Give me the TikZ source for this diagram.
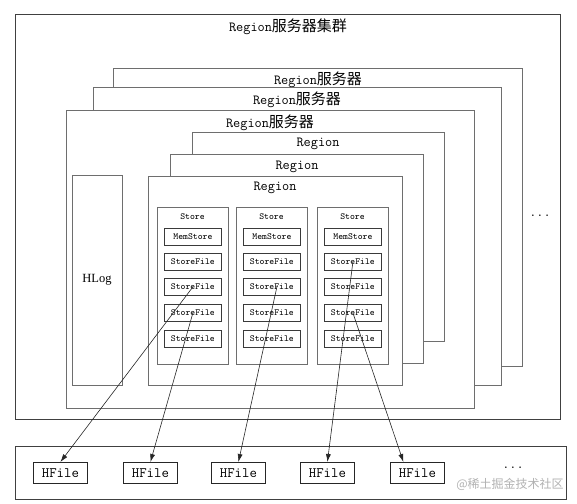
\documentclass[tikz,border=0pt]{standalone}
\usepackage{fontspec}
\usetikzlibrary{arrows.meta,calc}
\setmonofont{Latin Modern Mono}
\newfontfamily\seriff{Liberation Serif}
\newfontfamily\cjkf{Noto Sans CJK SC}
\definecolor{bc}{HTML}{6E6E6E}
\definecolor{ic}{HTML}{3A3A3A}
\tikzset{
  box/.style={draw=bc, fill=white, line width=0.9pt, inner sep=0pt, anchor=north west},
  ibox/.style={draw=ic, fill=white, line width=0.8pt, inner sep=0pt, minimum width=57pt, minimum height=17pt, anchor=north west, font=\ttfamily\fontsize{9.3}{11}\selectfont},
  hbox/.style={draw=black!85, fill=white, line width=0.8pt, inner sep=0pt, minimum width=54pt, minimum height=21pt, anchor=north west, font=\ttfamily\fontsize{14.4}{16}\selectfont},
  lbl/.style={inner sep=0pt, font=\ttfamily\fontsize{13.9}{16}\selectfont},
  slbl/.style={inner sep=0pt, font=\ttfamily\fontsize{9.3}{11}\selectfont},
  arr/.style={draw=black!85, line width=0.6pt, -{Latex[length=8pt,width=5pt]}}
}
\newcommand{\zh}[1]{{\cjkf\fontsize{15}{17}\selectfont #1}}
\begin{document}
\begin{tikzpicture}[x=1pt,y=-1pt]
\useasboundingbox (0,0) rectangle (577,503);
% cluster
\node[box, draw=black!75, minimum width=545pt, minimum height=405pt] (cluster) at (15,14) {};
\node[lbl] (tcluster) at (288,27) {Region\zh{服务器集群}};
% servers
\node[box, minimum width=409pt, minimum height=298pt] (srv3) at (113,68) {};
\node[lbl] (tsrv3) at (318,80) {Region\zh{服务器}};
\node[box, minimum width=408pt, minimum height=298pt] (srv2) at (93,87) {};
\node[lbl] (tsrv2) at (297,100) {Region\zh{服务器}};
\node[box, minimum width=408pt, minimum height=298pt] (srv1) at (66,110) {};
\node[lbl] (tsrv1) at (270,123) {Region\zh{服务器}};
% regions
\node[box, minimum width=252pt, minimum height=209pt] (reg3) at (192,132) {};
\node[lbl] (treg3) at (318,144) {Region};
\node[box, minimum width=253pt, minimum height=209pt] (reg2) at (170,154) {};
\node[lbl] (treg2) at (297,167) {Region};
\node[box, minimum width=254pt, minimum height=209pt] (reg1) at (148,176) {};
\node[lbl] (treg1) at (275,188) {Region};
% HLog
\node[box, minimum width=50pt, minimum height=210pt] (hlog) at (72,175) {};
\node[inner sep=0pt, font=\seriff\fontsize{12.5}{14}\selectfont] (thlog) at (97,280) {HLog};
% stores
\foreach \i/\x in {1/157,2/236,3/317}{
  \node[box, minimum width=71pt, minimum height=157pt] (st\i) at (\x,207) {};
  \node[slbl] (tst\i) at (\x+35.5,217) {Store};
  \node[ibox] (ms\i) at (\x+7,228) {MemStore};
  \node[ibox] (sf\i a) at (\x+7,253) {StoreFile};
  \node[ibox] (sf\i b) at (\x+7,278) {StoreFile};
  \node[ibox] (sf\i c) at (\x+7,304) {StoreFile};
  \node[ibox] (sf\i d) at (\x+7,330) {StoreFile};
}
\node[lbl] (dots1) at (540,216) {...};
% HDFS
\node[box, draw=black!75, minimum width=551pt, minimum height=53pt] (hdfs) at (15,446) {};
\node[hbox] (h1) at (33,462) {HFile};
\node[hbox] (h2) at (123,462) {HFile};
\node[hbox] (h3) at (211,462) {HFile};
\node[hbox] (h4) at (300,462) {HFile};
\node[hbox] (h5) at (390,462) {HFile};
\node[lbl] (dots2) at (513,468) {...};
\node[inner sep=0pt, text=black!30, font=\cjkf\fontsize{12}{14}\selectfont] (wm) at (510,484) {@稀土掘金技术社区};
% arrows
\coordinate (h5t) at ($(h5.north)+(-14,0)$);
\draw[arr] (sf1b.center) -- (h1.north);
\draw[arr] (sf1c.center) -- (h2.north);
\draw[arr] ([xshift=5pt]sf2b.center) -- (h3.north);
\draw[arr] (sf3a.center) -- (h4.north);
\draw[arr] (sf3c.center) -- (h5t);
\end{tikzpicture}
\end{document}
